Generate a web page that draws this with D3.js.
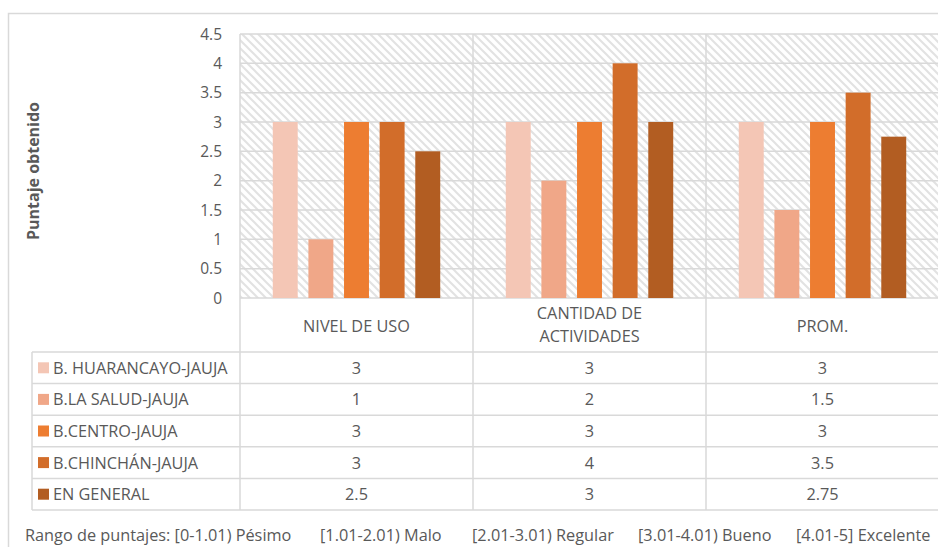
<!DOCTYPE html>
<html>
<head>
<meta charset="utf-8">
<script src="https://cdn.jsdelivr.net/npm/d3@7"></script>
<style>
  html, body { margin: 0; padding: 0; background: #fff; }
  svg text { font-family: "Open Sans", "Liberation Sans", sans-serif; fill: #595959; }
</style>
</head>
<body>
<svg id="chart" width="938" height="547"></svg>
<script>
// Datos del gráfico
const categorias = ["NIVEL DE USO", "CANTIDAD DE ACTIVIDADES", "PROM."];
const series = ["B. HUARANCAYO-JAUJA", "B.LA SALUD-JAUJA", "B.CENTRO-JAUJA", "B.CHINCHÁN-JAUJA", "EN GENERAL"];
const valores = [
    [3, 3, 3],      // B. HUARANCAYO-JAUJA
    [1, 2, 1.5],    // B.LA SALUD-JAUJA
    [3, 3, 3],      // B.CENTRO-JAUJA
    [3, 4, 3.5],    // B.CHINCHÁN-JAUJA
    [2.5, 3, 2.75]  // EN GENERAL
];
const etiquetasTabla = [
    ["3", "3", "3"],
    ["1", "2", "1.5"],
    ["3", "3", "3"],
    ["3", "4", "3.5"],
    ["2.5", "3", "2.75"]
];
const ticksY = [0, 0.5, 1, 1.5, 2, 2.5, 3, 3.5, 4, 4.5];
const colores = ["#F4C6B5", "#F0A788", "#ED7D31", "#D26D2A", "#B25D22"];
const rangos = ["Rango de puntajes: [0-1.01) Pésimo", "[1.01-2.01) Malo", "[2.01-3.01) Regular", "[3.01-4.01) Bueno", "[4.01-5] Excelente"];

const svg = d3.select("#chart");
const grid = "#d9d9d9";
const fs = 16.3; // tamaño de letra de la tabla

// Marco exterior
svg.append("rect")
    .attr("x", 8.5).attr("y", 13.5)
    .attr("width", 960).attr("height", 560)
    .attr("fill", "none").attr("stroke", grid).attr("stroke-width", 1.5);

// Patrón de rayas diagonales
const defs = svg.append("defs");
const pat = defs.append("pattern")
    .attr("id", "rayas")
    .attr("patternUnits", "userSpaceOnUse")
    .attr("width", 8).attr("height", 8);
pat.append("rect").attr("width", 8).attr("height", 8).attr("fill", "#fff");
pat.append("path")
    .attr("d", "M-1,-1 L9,9 M-5,3 L1,9 M7,-1 L9,1")
    .attr("stroke", "#e2e2e2").attr("stroke-width", 2);

const plotLeft = 240, plotRight = 939, plotTop = 34, plotBottom = 298;

const x = d3.scaleBand().domain(categorias).range([plotLeft, plotRight]);
const xs = d3.scaleBand().domain(series).range([0, x.bandwidth()]).paddingInner(0.3).paddingOuter(0.92);
const y = d3.scaleLinear().domain([0, 4.5]).range([plotBottom, plotTop]);

// Fondo rayado
svg.append("rect")
    .attr("x", plotLeft).attr("y", plotTop)
    .attr("width", plotRight - plotLeft).attr("height", plotBottom - plotTop)
    .attr("fill", "url(#rayas)");

// Líneas horizontales
svg.selectAll(".gy")
    .data(ticksY)
    .enter()
    .append("line")
    .attr("x1", plotLeft).attr("x2", plotRight)
    .attr("y1", d => y(d)).attr("y2", d => y(d))
    .attr("stroke", grid).attr("stroke-width", 1.5);

// Etiquetas eje Y
svg.selectAll(".ty")
    .data(ticksY)
    .enter()
    .append("text")
    .attr("x", 222)
    .attr("y", d => y(d) + 5.5)
    .attr("text-anchor", "end")
    .attr("font-size", 15.5)
    .text(d => d);

// Título eje Y
svg.append("text")
    .attr("transform", "translate(39,171) rotate(-90)")
    .attr("text-anchor", "middle")
    .attr("font-size", 16)
    .attr("font-weight", "bold")
    .text("Puntaje obtenido");

// Barras
series.forEach((s, i) => {
    svg.selectAll(".b" + i)
        .data(valores[i])
        .enter()
        .append("rect")
        .attr("x", (d, j) => x(categorias[j]) + xs(s))
        .attr("y", d => y(d))
        .attr("width", xs.bandwidth())
        .attr("height", d => plotBottom - y(d))
        .attr("fill", colores[i]);
});

// Tabla de datos
const filaTop = 352, filaH = 31.6;
const tablaBottom = filaTop + filaH * series.length;
const tablaLeft = 32;

// Líneas verticales (categorías)
categorias.concat(["fin"]).forEach((c, j) => {
    const xx = j < categorias.length ? x(c) : plotRight;
    svg.append("line")
        .attr("x1", xx).attr("x2", xx)
        .attr("y1", plotTop).attr("y2", tablaBottom)
        .attr("stroke", grid).attr("stroke-width", 1.5);
});
svg.append("line")
    .attr("x1", tablaLeft).attr("x2", tablaLeft)
    .attr("y1", filaTop).attr("y2", tablaBottom)
    .attr("stroke", grid).attr("stroke-width", 1.5);

// Líneas horizontales de la tabla
d3.range(series.length + 1).forEach(k => {
    svg.append("line")
        .attr("x1", tablaLeft).attr("x2", plotRight)
        .attr("y1", filaTop + k * filaH).attr("y2", filaTop + k * filaH)
        .attr("stroke", grid).attr("stroke-width", 1.5);
});

// Encabezados
categorias.forEach(c => {
    const cx = x(c) + x.bandwidth() / 2;
    if (c === "CANTIDAD DE ACTIVIDADES") {
        svg.append("text").attr("x", cx).attr("y", 319).attr("text-anchor", "middle")
            .attr("font-size", fs).text("CANTIDAD DE");
        svg.append("text").attr("x", cx).attr("y", 342).attr("text-anchor", "middle")
            .attr("font-size", fs).text("ACTIVIDADES");
    } else {
        svg.append("text").attr("x", cx).attr("y", 332).attr("text-anchor", "middle")
            .attr("font-size", fs).text(c);
    }
});

// Filas de la tabla
series.forEach((s, i) => {
    const cy = filaTop + i * filaH + filaH / 2;
    svg.append("rect")
        .attr("x", 38).attr("y", cy - 5.5)
        .attr("width", 11).attr("height", 11)
        .attr("fill", colores[i]);
    svg.append("text")
        .attr("x", 53).attr("y", cy + 6)
        .attr("font-size", fs)
        .text(s);
    etiquetasTabla[i].forEach((t, j) => {
        svg.append("text")
            .attr("x", x(categorias[j]) + x.bandwidth() / 2)
            .attr("y", cy + 6)
            .attr("text-anchor", "middle")
            .attr("font-size", fs)
            .text(t);
    });
});

// Nota de rangos
const rangoX = [25, 320, 472, 638, 796];
rangos.forEach((r, k) => {
    svg.append("text")
        .attr("x", rangoX[k]).attr("y", 541)
        .attr("font-size", fs)
        .text(r);
});
</script>
</body>
</html>
